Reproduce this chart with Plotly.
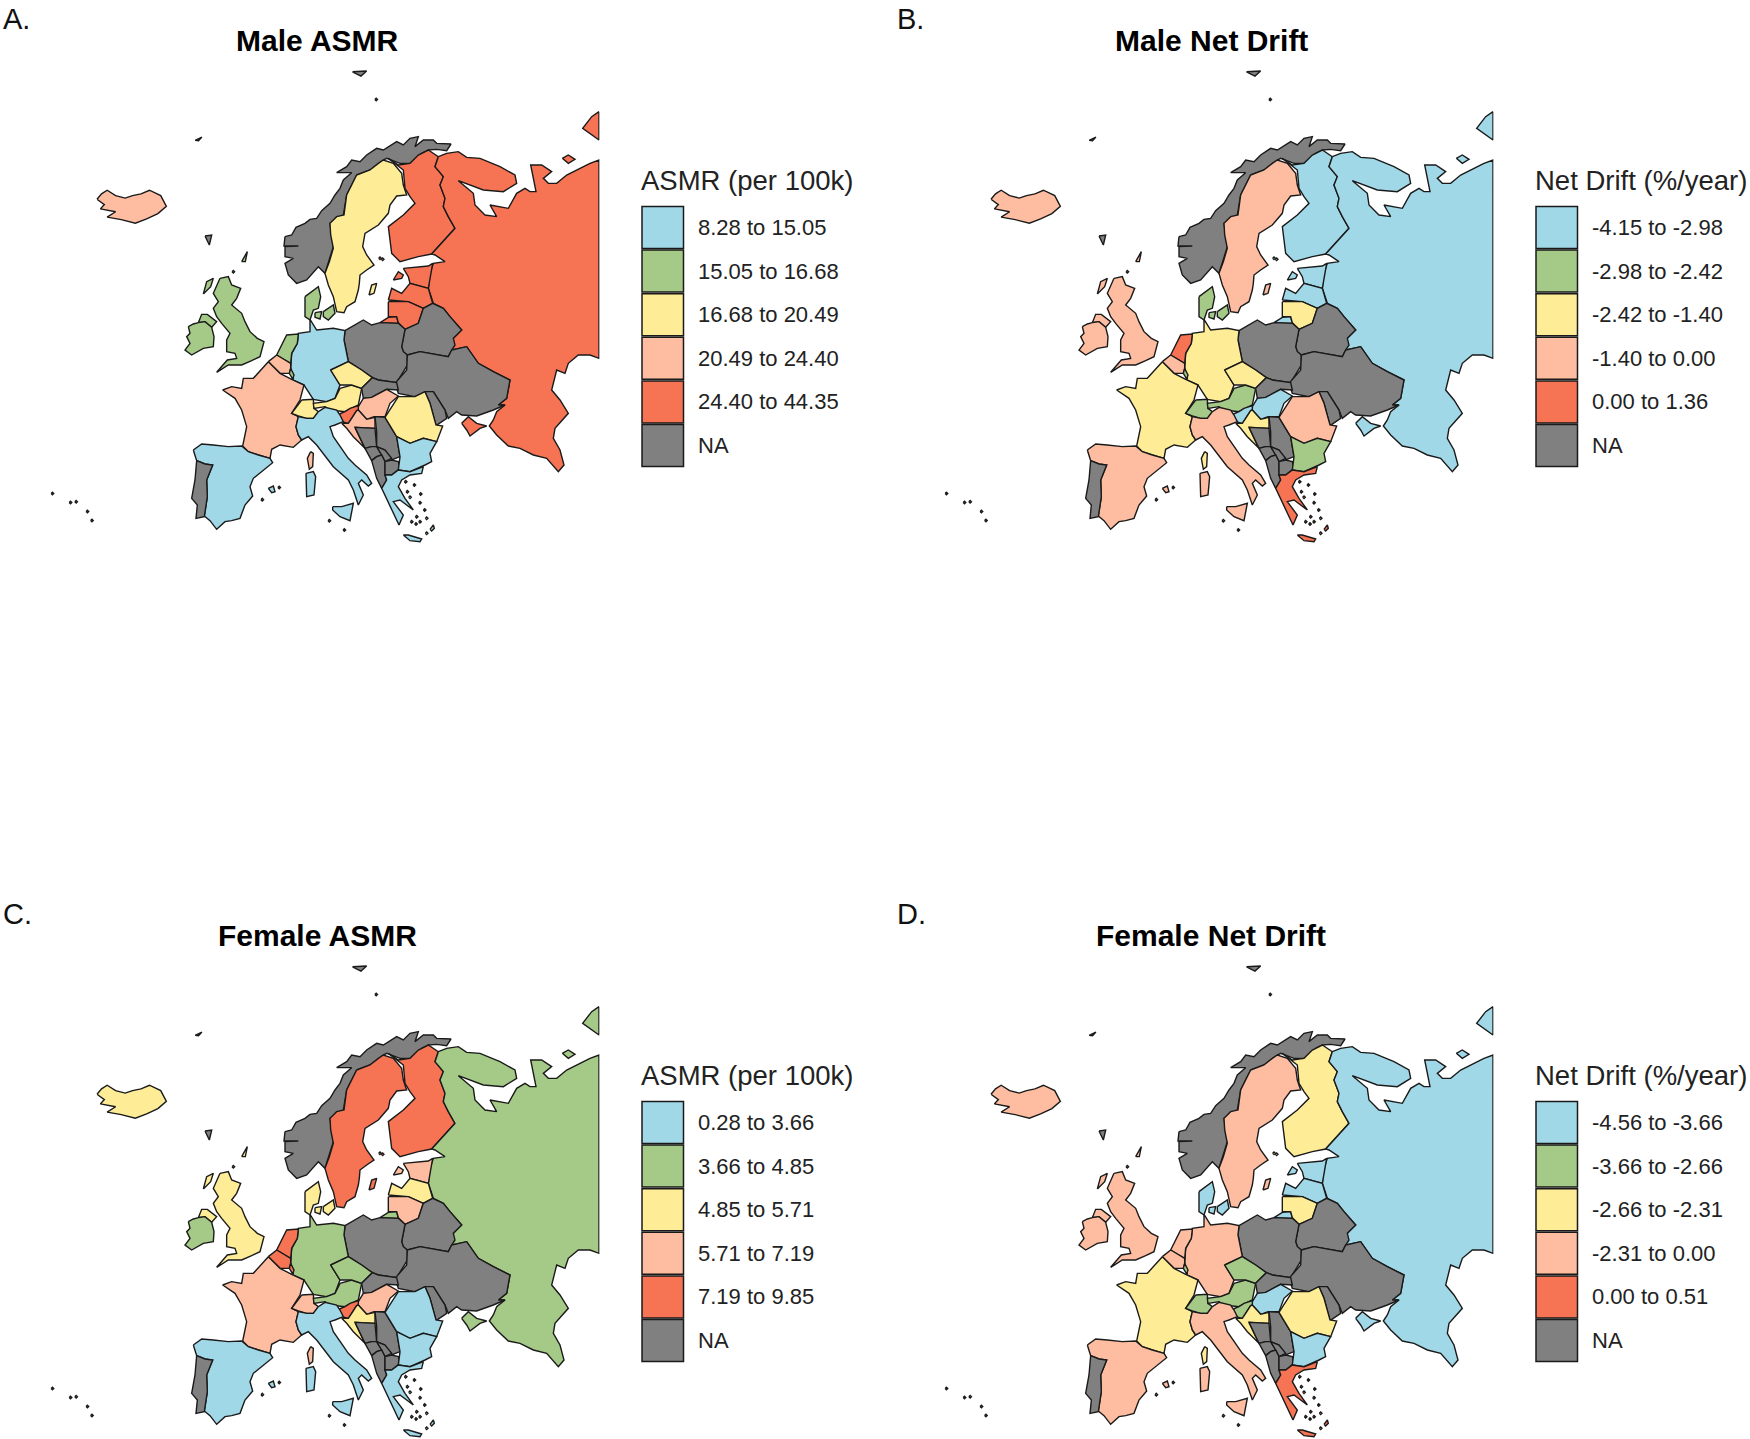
import plotly.graph_objects as go

# Traced outlines: every ring is given in one reading frame, see FRAMES
FRAMES = {"n": (170, 120, 3, 3), "c": (170, 310, 3, 3), "e": (360, 100, 3, 3),
          "s": (330, 340, 3, 3), "o": (0, 0, 1.773, 2.786)}

OUTLINES = {
 "Iceland": [("o", [(172,555),(180,540),(190,530),(205,545),(222,552),(235,545),(250,540),(265,530),(285,545),(295,575),(280,595),(260,610),(240,622),(215,612),(190,605),(205,590),(178,582),(185,570),(172,555)])],
 "United Kingdom": [("n", [(150,475),(175,470),(185,495),(212,505),(200,535),(185,555),(215,580),(225,605),(240,635),(262,655),(282,665),(270,710),(245,722),(215,735),(175,735),(140,757),(172,720),(200,715),(195,700),(170,695),(170,660),(180,640),(155,610),(140,590),(130,565),(145,545),(130,520),(150,475)]),
                    ("n", [(85,608),(95,583),(112,583),(140,605),(125,622),(105,605)]),
                    ("n", [(100,522),(110,485),(130,475),(122,500)]),
                    ("n", [(215,425),(232,395),(226,425)])],
 "Ireland": [("n", [(55,620),(70,612),(85,608),(105,605),(125,622),(132,650),(130,680),(100,685),(65,705),(45,690),(60,670),(50,650),(60,640)])],
 "Denmark": [("n", [(405,530),(425,515),(445,500),(452,530),(445,565),(430,570),(420,600),(405,590)]),
             ("n", [(460,575),(490,555),(495,580),(475,600),(460,590)]),
             ("n", [(435,578),(455,575),(450,597),(435,592)])],
 "Norway": [("n", [(345,350),(365,345),(378,322),(405,310),(420,298),(440,295),(455,272),(480,250),(495,225),(510,205),(520,180),(545,158),(500,158),(530,140),(545,120),(570,125),(590,105),(620,85),(640,90),(655,80),(680,65),(700,75),(720,55),(745,50),(735,80),(760,60),(790,60),(800,70),(843,72),(830,92),(800,88),(775,90),(755,100),(730,130),(690,130),(650,115),(640,120),(600,150),(560,165),(530,225),(520,285),(480,310),(490,380),(465,460),(445,440),(410,480),(380,490),(355,465),(345,430),(370,415),(345,410),(345,380),(385,378),(342,378)]),
            ("o", [(625,200),(650,198),(640,212)]),
            ("o", [(346,391),(358,382),(352,392)]),
            ("n", [(105,348),(125,345),(118,375)])],
 "Sweden": [("n", [(560,165),(575,160),(600,150),(625,130),(640,120),(670,130),(695,160),(700,195),(710,225),(680,228),(660,255),(655,280),(625,315),(585,340),(578,380),(590,405),(612,435),(590,450),(570,465),(568,490),(565,510),(555,545),(530,560),(522,578),(500,575),(490,530),(475,495),(465,460),(478,425),(490,385),(482,345),(480,310),(500,290),(522,285),(530,225)]),
            ("n", [(597,525),(605,495),(620,490),(612,520)])],
 "Finland": [("e", [(85,175),(115,195),(150,190),(175,165),(205,150),(235,170),(225,200),(250,230),(240,255),(255,295),(250,320),(265,350),(285,385),(215,462),(175,470),(120,485),(95,460),(85,380),(130,345),(165,310),(150,290),(135,265),(130,210)])],
 "Russia": [("e", [(235,170),(260,160),(295,155),(320,172),(360,175),(420,200),(465,225),(470,250),(430,275),(370,270),(295,242),(340,280),(345,315),(375,345),(410,350),(390,315),(445,325),(470,280),(495,265),(510,275),(528,275),(512,195),(545,195),(575,215),(550,235),(565,250),(590,250),(620,225),(690,190),(717,180),
                   (717,775),(690,765),(655,765),(625,790),(615,820),(590,810),(575,870),(600,900),(625,940),(585,985),(580,1015),(600,1050),(612,1095),(595,1115),(560,1075),(520,1065),(480,1045),(445,1038),(410,1005),(388,978),(400,960),(410,935),(435,915),(415,915),(440,895),(450,840),(400,815),(355,790),(320,740),(275,750),
                   (280,715),(305,690),(270,650),(250,625),(220,610),(205,565),(210,520),(220,490),(255,485),(225,465),(215,462),(285,385),(265,350),(250,320),(255,295),(240,255),(250,230),(225,200)]),
            ("s", [(395,250),(415,230),(440,250),(470,258),(450,265),(420,288),(410,270)]),
            ("e", [(60,668),(85,652),(110,650),(115,670)]),
            ("e", [(717,35),(695,50),(668,85),(690,100),(717,120)]),
            ("e", [(607,175),(625,165),(645,178),(625,190)])],
 "Estonia": [("e", [(130,505),(205,498),(218,490),(205,565),(150,550),(145,530)]),
             ("e", [(100,540),(115,515),(130,525),(125,535)])],
 "Latvia": [("e", [(85,600),(95,565),(125,580),(150,550),(205,565),(218,610),(190,625),(145,605)])],
 "Lithuania": [("e", [(85,605),(145,605),(190,625),(175,670),(135,688),(115,668),(110,650),(85,650)])],
 "Belarus": [("c", [(705,58),(745,40),(760,-5),(788,-20),(820,-5),(840,20),(875,60),(850,85),(855,105),(845,120),(835,140),(750,125),(712,135),(700,125),(695,110)])],
 "Poland": [("c", [(525,62),(580,30),(605,45),(630,38),(685,40),(705,58),(695,110),(700,125),(712,135),(712,165),(680,218),(625,210),(607,203),(575,180),(535,155),(522,90)])],
 "Ukraine": [("s", [(232,45),(270,35),(355,50),(365,30),(410,20),(445,70),(490,95),(540,120),(530,175),(505,195),(525,195),(490,210),(440,228),(395,225),(380,215),(355,235),(345,210),(310,155),(285,155),(255,170),(205,160),(195,130),(230,90)])],
 "Moldova": [("s", [(285,155),(310,155),(345,210),(350,235),(318,257),(310,225),(300,190)])],
 "Germany": [("c", [(420,28),(440,60),(490,55),(525,62),(522,90),(535,155),(482,180),(510,225),(495,265),(470,275),(430,268),(402,225),(365,208),(370,205),(362,175),(365,130),(382,100),(385,70),(420,65)])],
 "Netherlands": [("c", [(320,135),(335,105),(350,75),(385,72),(382,100),(365,130),(362,160),(345,150)])],
 "Belgium": [("c", [(295,155),(320,135),(345,150),(362,160),(362,175),(358,190),(330,190),(310,170)])],
 "Luxembourg": [("c", [(358,190),(362,175),(372,195),(368,207)])],
 "France": [("c", [(295,155),(310,170),(330,190),(365,208),(402,225),(390,270),(365,310),(385,320),(378,350),(385,375),(395,390),(370,412),(330,405),(305,418),(300,445),(265,435),(235,425),(218,408),(230,350),(215,300),(195,265),(158,240),(185,230),(215,235),(220,205),(250,205),(280,170)]),
            ("c", [(422,425),(430,430),(428,470),(418,478),(412,445)])],
 "Spain": [("c", [(70,420),(95,402),(130,405),(175,410),(215,408),(235,425),(265,435),(300,445),(308,458),(280,480),(250,505),(240,530),(248,558),(225,585),(210,625),(185,632),(165,635),(140,658),(120,632),(103,618),(112,560),(110,510),(128,465),(105,462),(80,452)]),
           ("c", [(295,535),(310,528),(315,545),(305,548)])],
 "Portugal": [("c", [(80,452),(105,462),(128,465),(110,510),(112,560),(103,620),(78,625),(82,585),(65,565),(75,510)])],
 "Switzerland": [("c", [(395,270),(430,268),(432,295),(445,305),(430,325),(410,325),(385,318),(365,310)])],
 "Austria": [("c", [(510,235),(545,225),(575,235),(565,285),(525,305),(480,300),(465,290),(432,295),(430,280),(470,275),(495,265)])],
 "Czechia": [("c", [(482,180),(535,155),(575,180),(607,203),(575,235),(545,225),(510,225)])],
 "Slovakia": [("c", [(575,235),(607,203),(625,210),(680,218),(685,240),(650,238),(605,262),(580,265)])],
 "Hungary": [("c", [(565,290),(580,265),(605,262),(650,238),(685,258),(660,280),(645,320),(612,320),(590,328),(565,300)])],
 "Slovenia": [("s", [(28,222),(45,215),(60,205),(85,197),(85,210),(80,212),(65,235),(55,250),(35,245)])],
 "Croatia": [("s", [(35,250),(55,250),(65,235),(80,212),(85,210),(110,238),(135,232),(135,265),(75,262),(105,325),(70,290),(50,265)])],
 "Bosnia": [("s", [(75,262),(135,265),(140,320),(125,320),(105,325)])],
 "Serbia": [("s", [(135,230),(165,232),(200,290),(210,350),(185,360),(165,330),(140,320),(140,275)])],
 "Montenegro": [("s", [(105,325),(125,320),(140,320),(155,345),(140,350),(125,362)])],
 "Kosovo": [("s", [(140,320),(165,330),(185,355),(165,365),(155,345)])],
 "Albania": [("s", [(125,362),(140,350),(155,345),(165,365),(165,405),(170,420),(155,445),(140,415)])],
 "Macedonia": [("s", [(165,365),(185,360),(205,365),(210,385),(185,405),(165,405)])],
 "Romania": [("s", [(165,232),(205,170),(255,170),(285,155),(300,190),(318,255),(338,258),(320,305),(280,295),(240,310),(200,290)])],
 "Bulgaria": [("s", [(200,290),(240,310),(280,295),(320,305),(300,340),(305,365),(285,375),(240,395),(205,390),(210,350)])],
 "Greece": [("s", [(165,405),(185,405),(205,390),(240,395),(280,380),(275,400),(240,405),(215,420),(205,440),(225,475),(250,510),(210,480),(190,485),(220,525),(207,555),(195,530),(175,490),(165,470),(155,445),(170,420)]),
            ("s", [(220,585),(235,585),(275,597),(270,605),(240,602)]),
            ("s", [(300,568),(310,555),(313,565),(305,573)])],
 "Italy": [("c", [(385,320),(410,325),(430,325),(445,305),(465,292),(500,300),(510,315),(520,335),(495,345),(480,350),(490,380),(535,445),(555,465),(590,495),(605,520),(595,528),(575,510),(565,520),(580,555),(565,585),(560,570),(550,540),(535,510),(490,470),(440,405),(415,380),(395,390),(385,375),(378,350)]),
           ("c", [(488,590),(515,590),(550,580),(540,632),(510,620),(488,600)]),
           ("c", [(408,490),(430,485),(437,500),(432,555),(410,560)])],
}

# Islets too small to show as anything but a dark speck: reading frame, places
ISLETS = {
 "Norway": ("o", [(667,277)]),
 "United Kingdom": ("n", [(190,455)]),
 "Spain": ("o", [(125,1400),(135,1398),(155,1425),(163,1450),(465,1392),(495,1358)]),
 "Portugal": ("o", [(93,1375)]),
 "Greece": ("s", [(272,462),(270,488),(253,435),(227,425),(240,472),(284,510),(260,530),(245,545),(258,552),(290,535),(270,545),(232,455),(290,580)]),
 "Finland": ("e", [(60,475),(68,478)]),
 "Italy": ("c", [(478,632),(523,660)]),
}

COUNTRIES = ["Iceland","United Kingdom","Ireland","Denmark","Norway","Sweden","Finland","Russia","Estonia","Latvia","Lithuania",
             "Belarus","Poland","Ukraine","Moldova","Germany","Netherlands","Belgium","Luxembourg","France","Spain","Portugal","Switzerland",
             "Austria","Czechia","Slovakia","Hungary","Slovenia","Croatia","Bosnia","Serbia","Montenegro","Kosovo","Albania",
             "Macedonia","Romania","Bulgaria","Greece","Italy"]
# Class of each country in COUNTRIES order: 0..4 = legend bins, 5 = NA
MALE_ASMR_CLASS    = [3,1,1,1,5,2,4,4,4,4,4,5,5,5,5,0,1,3,1,3,0,5,2,2,2,5,3,4,3,5,5,5,5,5,5,2,0,0,0]
MALE_DRIFT_CLASS   = [3,3,3,1,5,3,0,0,0,0,2,5,5,5,5,2,4,3,1,2,3,5,1,1,2,5,0,0,2,5,5,5,5,5,5,3,1,4,3]
FEMALE_ASMR_CLASS  = [2,2,1,2,5,4,4,1,3,2,3,5,5,5,5,1,4,4,4,3,0,5,3,1,1,5,3,4,2,5,5,5,5,5,5,0,0,0,0]
FEMALE_DRIFT_CLASS = [3,3,3,0,5,3,2,0,0,0,2,5,5,5,5,3,3,3,1,2,3,5,1,1,1,5,0,1,2,5,5,5,5,5,5,2,0,4,3]

MALE_ASMR_LABELS    = ["8.28 to 15.05","15.05 to 16.68","16.68 to 20.49","20.49 to 24.40","24.40 to 44.35","NA"]
MALE_DRIFT_LABELS   = ["-4.15 to -2.98","-2.98 to -2.42","-2.42 to -1.40","-1.40 to 0.00","0.00 to 1.36","NA"]
FEMALE_ASMR_LABELS  = ["0.28 to 3.66","3.66 to 4.85","4.85 to 5.71","5.71 to 7.19","7.19 to 9.85","NA"]
FEMALE_DRIFT_LABELS = ["-4.56 to -3.66","-3.66 to -2.66","-2.66 to -2.31","-2.31 to 0.00","0.00 to 0.51","NA"]

CLASS_COLORS = ["#A0D8E8","#A5CA87","#FEEC96","#FEBDA0","#F67354","#808080"]

PANELS = [
 dict(letter="A.", title="Male ASMR",      legend="ASMR (per 100k)",   classes=MALE_ASMR_CLASS,    labels=MALE_ASMR_LABELS,    dx=0,   dy=0),
 dict(letter="B.", title="Male Net Drift", legend="Net Drift (%/year)", classes=MALE_DRIFT_CLASS,   labels=MALE_DRIFT_LABELS,   dx=894, dy=0),
 dict(letter="C.", title="Female ASMR",    legend="ASMR (per 100k)",   classes=FEMALE_ASMR_CLASS,  labels=FEMALE_ASMR_LABELS,  dx=0,   dy=895),
 dict(letter="D.", title="Female Net Drift", legend="Net Drift (%/year)", classes=FEMALE_DRIFT_CLASS, labels=FEMALE_DRIFT_LABELS, dx=894, dy=895),
]

W, H = 1750, 1439
FONT = "Liberation Sans, Arial, sans-serif"
INK = "#1a1a1a"
MAP_X = (40, 599.5)
MAP_Y = (60, 543)


def ring_to_map(frame, pts):
    ox, oy, sx, sy = FRAMES[frame]
    return [ox + p[0] / sx for p in pts], [oy + p[1] / sy for p in pts]


def country_xy(name):
    xs, ys = [], []
    for frame, pts in OUTLINES[name]:
        x, y = ring_to_map(frame, pts)
        xs += x + [x[0], None]
        ys += y + [y[0], None]
    if name in ISLETS:
        frame, places = ISLETS[name]
        for px, py in places:
            x, y = ring_to_map(frame, [(px, py)])
            r = 1.3
            xs += [x[0] - r, x[0], x[0] + r, x[0], x[0] - r, None]
            ys += [y[0], y[0] - r, y[0], y[0] + r, y[0], None]
    return xs, ys


fig = go.Figure()
shapes, notes = [], []


def fx(px):
    return px / W


def fy(py):
    return 1 - py / H


layout_axes = {}
for i, p in enumerate(PANELS):
    suffix = "" if i == 0 else str(i + 1)
    dx, dy = p["dx"], p["dy"]
    layout_axes["xaxis" + suffix] = dict(domain=[fx(MAP_X[0] + dx), fx(MAP_X[1] + dx)], range=list(MAP_X),
                                         visible=False, fixedrange=True, anchor="y" + suffix)
    layout_axes["yaxis" + suffix] = dict(domain=[fy(MAP_Y[1] + dy), fy(MAP_Y[0] + dy)], range=[MAP_Y[1], MAP_Y[0]],
                                         visible=False, fixedrange=True, anchor="x" + suffix)
    for name, cls in zip(COUNTRIES, p["classes"]):
        xs, ys = country_xy(name)
        fig.add_trace(go.Scatter(x=xs, y=ys, mode="lines", fill="toself", fillcolor=CLASS_COLORS[cls],
                                 line=dict(color=INK, width=1.4), name=name, hoverinfo="name", showlegend=False,
                                 xaxis="x" + suffix, yaxis="y" + suffix))
    # panel letter, title, legend heading
    notes.append(dict(text=p["letter"], x=fx(1 + dx), y=fy(19 + dy), xanchor="left", yanchor="middle",
                      font=dict(size=29, color="#111", family=FONT)))
    notes.append(dict(text="<b>%s</b>" % p["title"], x=fx(317 + dx), y=fy(40 + dy), xanchor="center", yanchor="middle",
                      font=dict(size=30, color="#000", family=FONT)))
    notes.append(dict(text=p["legend"], x=fx(639 + dx), y=fy(180 + dy), xanchor="left", yanchor="middle",
                      font=dict(size=27.5, color="#222", family=FONT)))
    for k, label in enumerate(p["labels"]):
        top = 206.5 + 43.6 * k + dy
        shapes.append(dict(type="rect", xref="paper", yref="paper", x0=fx(642 + dx), x1=fx(683.5 + dx),
                           y0=fy(top), y1=fy(top + 42), fillcolor=CLASS_COLORS[k],
                           line=dict(color=INK, width=1.5)))
        notes.append(dict(text=label, x=fx(696 + dx), y=fy(top + 21), xanchor="left", yanchor="middle",
                          font=dict(size=22, color="#222", family=FONT)))
for n in notes:
    n.update(xref="paper", yref="paper", showarrow=False)

fig.update_layout(width=W, height=H, margin=dict(l=0, r=0, t=0, b=0), paper_bgcolor="white", plot_bgcolor="white",
                  showlegend=False, shapes=shapes, annotations=notes, **layout_axes)
fig.write_html("out.html", config={"displayModeBar": False},
               post_script="document.body.style.margin='0';document.documentElement.style.overflow='hidden';")
